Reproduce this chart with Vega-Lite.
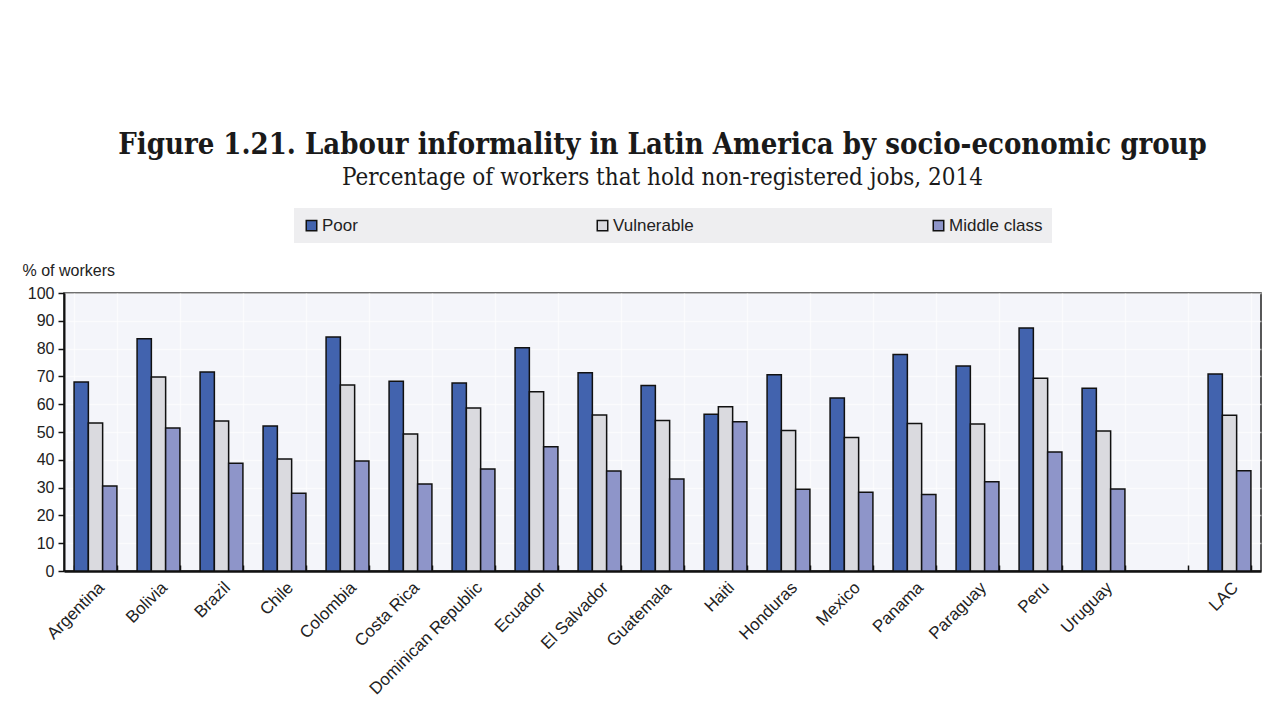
{
  "$schema": "https://vega.github.io/schema/vega-lite/v6.json",
  "autosize": {"type": "none"},
  "padding": {"left": 64, "top": 293, "right": 19, "bottom": 149},
  "width": 1197,
  "height": 278,
  "background": "white",
  "title": {
    "text": "Figure 1.21. Labour informality in Latin America by socio-economic group",
    "subtitle": "Percentage of workers that hold non-registered jobs, 2014",
    "font": "DejaVu Serif Condensed, Liberation Serif, serif",
    "fontSize": 29,
    "fontWeight": "bold",
    "color": "#1a1a1a",
    "subtitleFont": "DejaVu Serif Condensed, Liberation Serif, serif",
    "subtitleFontSize": 24,
    "subtitleColor": "#1a1a1a",
    "subtitlePadding": 6,
    "anchor": "middle",
    "offset": 18
  },
  "config": {
    "view": {"fill": "#F4F5FA", "stroke": "#222222", "strokeWidth": 1.5},
    "axis": {"labelFont": "Liberation Sans, Arial, sans-serif", "titleFont": "Liberation Sans, Arial, sans-serif", "labelColor": "#222222", "titleColor": "#222222"}
  },
  "data": {
    "values": [
      {"country": "Argentina", "group": "Poor", "value": 68.0},
      {"country": "Argentina", "group": "Vulnerable", "value": 53.2},
      {"country": "Argentina", "group": "Middle class", "value": 30.6},
      {"country": "Bolivia", "group": "Poor", "value": 83.5},
      {"country": "Bolivia", "group": "Vulnerable", "value": 69.8},
      {"country": "Bolivia", "group": "Middle class", "value": 51.4},
      {"country": "Brazil", "group": "Poor", "value": 71.6},
      {"country": "Brazil", "group": "Vulnerable", "value": 54.0},
      {"country": "Brazil", "group": "Middle class", "value": 38.8},
      {"country": "Chile", "group": "Poor", "value": 52.2},
      {"country": "Chile", "group": "Vulnerable", "value": 40.3},
      {"country": "Chile", "group": "Middle class", "value": 28.0},
      {"country": "Colombia", "group": "Poor", "value": 84.2},
      {"country": "Colombia", "group": "Vulnerable", "value": 66.9},
      {"country": "Colombia", "group": "Middle class", "value": 39.6},
      {"country": "Costa Rica", "group": "Poor", "value": 68.3},
      {"country": "Costa Rica", "group": "Vulnerable", "value": 49.3},
      {"country": "Costa Rica", "group": "Middle class", "value": 31.3},
      {"country": "Dominican Republic", "group": "Poor", "value": 67.6},
      {"country": "Dominican Republic", "group": "Vulnerable", "value": 58.6},
      {"country": "Dominican Republic", "group": "Middle class", "value": 36.7},
      {"country": "Ecuador", "group": "Poor", "value": 80.3},
      {"country": "Ecuador", "group": "Vulnerable", "value": 64.5},
      {"country": "Ecuador", "group": "Middle class", "value": 44.7},
      {"country": "El Salvador", "group": "Poor", "value": 71.3},
      {"country": "El Salvador", "group": "Vulnerable", "value": 56.1},
      {"country": "El Salvador", "group": "Middle class", "value": 36.0},
      {"country": "Guatemala", "group": "Poor", "value": 66.7},
      {"country": "Guatemala", "group": "Vulnerable", "value": 54.1},
      {"country": "Guatemala", "group": "Middle class", "value": 33.1},
      {"country": "Haiti", "group": "Poor", "value": 56.4},
      {"country": "Haiti", "group": "Vulnerable", "value": 59.1},
      {"country": "Haiti", "group": "Middle class", "value": 53.7},
      {"country": "Honduras", "group": "Poor", "value": 70.6},
      {"country": "Honduras", "group": "Vulnerable", "value": 50.5},
      {"country": "Honduras", "group": "Middle class", "value": 29.4},
      {"country": "Mexico", "group": "Poor", "value": 62.2},
      {"country": "Mexico", "group": "Vulnerable", "value": 48.0},
      {"country": "Mexico", "group": "Middle class", "value": 28.3},
      {"country": "Panama", "group": "Poor", "value": 77.9},
      {"country": "Panama", "group": "Vulnerable", "value": 53.1},
      {"country": "Panama", "group": "Middle class", "value": 27.5},
      {"country": "Paraguay", "group": "Poor", "value": 73.7},
      {"country": "Paraguay", "group": "Vulnerable", "value": 52.9},
      {"country": "Paraguay", "group": "Middle class", "value": 32.1},
      {"country": "Peru", "group": "Poor", "value": 87.4},
      {"country": "Peru", "group": "Vulnerable", "value": 69.3},
      {"country": "Peru", "group": "Middle class", "value": 42.8},
      {"country": "Uruguay", "group": "Poor", "value": 65.7},
      {"country": "Uruguay", "group": "Vulnerable", "value": 50.4},
      {"country": "Uruguay", "group": "Middle class", "value": 29.5},
      {"country": "LAC", "group": "Poor", "value": 70.9},
      {"country": "LAC", "group": "Vulnerable", "value": 56.0},
      {"country": "LAC", "group": "Middle class", "value": 36.1}
    ]
  },
  "mark": {"type": "bar", "stroke": "#111111", "strokeWidth": 1.5},
  "encoding": {
    "x": {
      "field": "country",
      "type": "nominal",
      "sort": null,
      "scale": {
        "domain": ["Argentina", "Bolivia", "Brazil", "Chile", "Colombia", "Costa Rica", "Dominican Republic", "Ecuador", "El Salvador", "Guatemala", "Haiti", "Honduras", "Mexico", "Panama", "Paraguay", "Peru", "Uruguay", " ", "LAC"],
        "paddingInner": 0.32,
        "paddingOuter": 0.16
      },
      "axis": {
        "title": null,
        "labelAngle": -45,
        "labelFontSize": 17,
        "labelPadding": 14,
        "tickBand": "extent",
        "tickSize": -6,
        "tickColor": "#111111",
        "tickWidth": 1.5,
        "domainColor": "#111111",
        "domainWidth": 2.5,
        "grid": true,
        "gridColor": "#ffffff",
        "gridOpacity": 0.6,
        "gridWidth": 1.5
      }
    },
    "xOffset": {
      "field": "group",
      "type": "nominal",
      "sort": ["Poor", "Vulnerable", "Middle class"],
      "scale": {"paddingInner": 0, "paddingOuter": 0}
    },
    "y": {
      "field": "value",
      "type": "quantitative",
      "scale": {"domain": [0, 100], "nice": false},
      "axis": {
        "title": "% of workers",
        "titleAngle": 0,
        "titleAlign": "left",
        "titleBaseline": "alphabetic",
        "titleX": -42,
        "titleY": -18,
        "titleFontSize": 16,
        "titleFontWeight": "normal",
        "labelFontSize": 16,
        "labelOverlap": false,
        "values": [0, 10, 20, 30, 40, 50, 60, 70, 80, 90, 100],
        "tickSize": 6,
        "tickColor": "#111111",
        "tickWidth": 1.5,
        "labelPadding": 4,
        "domain": true,
        "domainColor": "#111111",
        "domainWidth": 2,
        "grid": true,
        "gridColor": "#ffffff",
        "gridOpacity": 0.6,
        "gridWidth": 1.5
      }
    },
    "fill": {
      "field": "group",
      "type": "nominal",
      "sort": ["Poor", "Vulnerable", "Middle class"],
      "scale": {"domain": ["Poor", "Vulnerable", "Middle class"], "range": ["#4263AE", "#DADADF", "#8E95C9"]},
      "legend": {
        "title": null,
        "orient": "none",
        "direction": "horizontal",
        "legendX": 230,
        "legendY": -85,
        "fillColor": "#EEEEF0",
        "padding": 9,
        "columnPadding": 236,
        "symbolType": "square",
        "symbolSize": 110,
        "symbolStrokeColor": "#111111",
        "symbolStrokeWidth": 1.5,
        "labelFont": "Liberation Sans, Arial, sans-serif",
        "labelFontSize": 17,
        "labelColor": "#222222",
        "labelOffset": 2
      }
    }
  }
}
